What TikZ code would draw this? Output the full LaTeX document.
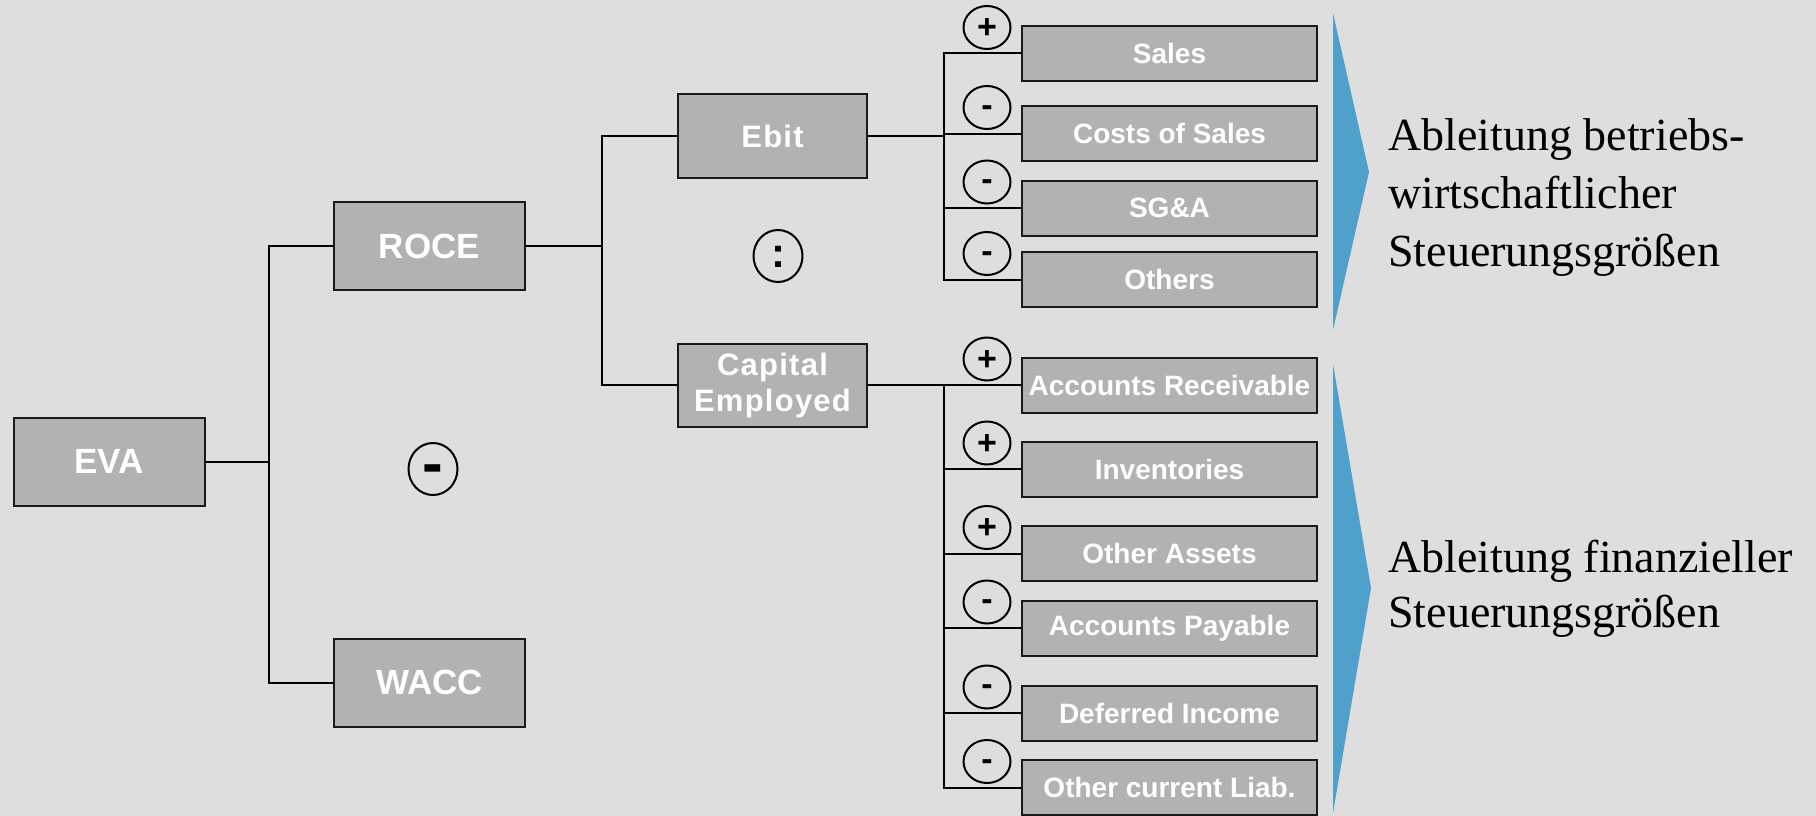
\documentclass[tikz,border=0pt]{standalone}
\usepackage{fontspec}
\setmainfont{Liberation Serif}
\setsansfont{Liberation Sans}
\usetikzlibrary{shapes.geometric}

\definecolor{bggray}{HTML}{DEDEDE}
\definecolor{boxgray}{HTML}{B2B2B2}
\definecolor{chevblue}{HTML}{50A0CC}

\begin{document}
\begin{tikzpicture}[x=1pt, y=-1pt,
        box/.style={draw=black!90, fill=boxgray, line width=2pt, inner sep=0pt, text=white},
        bigbox/.style={box, minimum width=191pt, minimum height=88pt, font=\sffamily\bfseries\fontsize{35}{40}\selectfont},
        midbox/.style={box, minimum width=189pt, minimum height=83pt, align=center, font=\sffamily\bfseries\fontsize{31}{36}\selectfont\addfontfeature{LetterSpace=4}},
        itembox/.style={box, minimum width=295pt, minimum height=55pt, font=\sffamily\bfseries\fontsize{28}{32}\selectfont},
        sign/.style={ellipse, draw=black, line width=2pt, inner sep=0pt, minimum width=47pt, minimum height=43pt, text depth=0pt, font=\sffamily\bfseries\fontsize{34}{34}\selectfont},
        signplus/.style={sign, text height=22pt, node contents={+}},
        signminus/.style={sign, text height=17pt, node contents={-}},
        opsign/.style={sign, minimum width=49pt, minimum height=52pt},
        conn/.style={draw=black, line width=2pt},
        note/.style={align=left, inner sep=0pt, anchor=base west, font=\fontsize{46}{58}\selectfont}
    ]
            \fill[bggray] (0,0) rectangle (1816,816);
            \useasboundingbox (0,0) rectangle (1816,816);

            \fill[chevblue] (1333,13) -- (1369,172) -- (1333,330) -- cycle;
            \fill[chevblue] (1333,364) -- (1371,588) -- (1333,813) -- cycle;

            \node[bigbox] (eva) at (109,461.5) {EVA};
            \node[bigbox] (roce) at (429.5,246) {ROCE};
            \node[bigbox] (wacc) at (429.5,682.5) {WACC};
            \node[midbox] (ebit) at (772.5,136) {Ebit};
            \node[midbox] (cap) at (772.5,385) {Capital\\Employed};

            \node[opsign, text height=30pt, font=\sffamily\bfseries\fontsize{62}{62}\selectfont] (minus) at (433,469) {-};
            \node[opsign, text height=22pt, font=\sffamily\bfseries\fontsize{42}{42}\selectfont] (quot) at (778,256) {:};

            \foreach \nm/\yy/\txt/\st in {sales/53.5/Sales/signplus, costs/133.5/Costs of Sales/signminus,
                    sga/208/SG\&A/signminus, others/279.5/Others/signminus,
                    ar/385/Accounts Receivable/signplus, inv/469/Inventories/signplus,
                    oa/553.5/Other Assets/signplus, ap/628/Accounts Payable/signminus,
                    di/713/Deferred Income/signminus, ocl/787.5/Other current Liab./signminus}{
                \node[itembox] (\nm) at (1169.5,\yy) {\txt};
                \node[\st, name=s\nm, at={(987,\yy-26)}];
            }

            \coordinate (j1) at (269,461.5);
            \coordinate (j2) at (602,246);
            \coordinate (j3) at (944,136);
            \coordinate (j4) at (944,385);

            \draw[conn] (eva.east) -- (j1);
            \draw[conn] (roce.west) -| (j1) |- (wacc.west);
            \draw[conn] (roce.east) -- (j2);
            \draw[conn] (ebit.west) -| (j2) |- (cap.west);
            \draw[conn] (ebit.east) -- (j3);
            \draw[conn] (sales.west) -| (j3) |- (others.west);
            \foreach \nm in {costs,sga} \draw[conn] (\nm.west) -- (\nm.west -| j3);
            \draw[conn] (cap.east) -- (ar.west);
            \draw[conn] (j4) |- (ocl.west);
            \foreach \nm in {inv,oa,ap,di} \draw[conn] (\nm.west) -- (\nm.west -| j4);

            \node[note] (opnote) at (1388,266) {Ableitung betriebs-\\wirtschaftlicher\\Steuerungsgrößen};
            \node[note, font=\fontsize{46}{55}\selectfont] (finnote) at (1388,627) {Ableitung finanzieller\\Steuerungsgrößen};

        \end{tikzpicture}
\end{document}
